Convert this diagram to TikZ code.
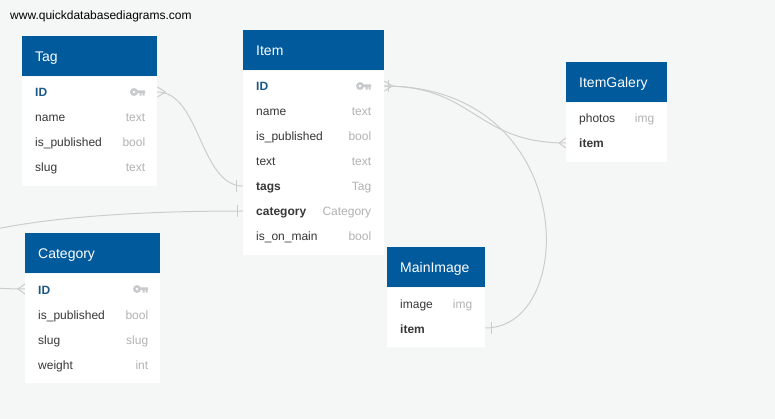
\documentclass[tikz,border=0pt]{standalone}
\usepackage{fontspec}
\setmainfont{Liberation Sans}
\usetikzlibrary{positioning}
\definecolor{pagebg}{RGB}{245,247,247}
\definecolor{headblue}{RGB}{0,90,156}
\definecolor{idblue}{RGB}{28,88,134}
\definecolor{rowtext}{RGB}{55,55,55}
\definecolor{typegrey}{RGB}{178,178,178}
\definecolor{keygrey}{RGB}{200,202,206}
\definecolor{linkgrey}{RGB}{204,204,204}
\tikzset{
  headbox/.style={anchor=north west,fill=headblue,text=white,font=\fontsize{14}{16}\selectfont,minimum height=40,inner xsep=13,inner ysep=0,text height=12pt,text depth=2pt,align=left},
  bodybox/.style={fill=white,inner sep=0,below=0pt of #1},
  rowbox/.style={anchor=west,text width=#1,inner xsep=13,inner ysep=0,minimum height=25,text height=11pt,text depth=1pt,align=left,text=rowtext,font=\fontsize{12}{14}\selectfont},
  typebox/.style={anchor=east,inner sep=0,text height=11pt,text depth=1pt,text=typegrey,font=\fontsize{12}{14}\selectfont},
  link/.style={draw=linkgrey,line width=1pt},
  keyicon/.pic={
    \fill[keygrey,even odd rule] (-3.5,0) circle (4) (-3.5,0) circle (1.7);
    \fill[keygrey] (-1,-1.6) rectangle (7.5,1.2) (2,1) rectangle (4,3.6) (5,1) rectangle (7,3.6);
  }
}
\begin{document}
\begin{tikzpicture}[x=1pt,y=-1pt]
\useasboundingbox (0,0) rectangle (775,419);
\fill[pagebg] (0,0) rectangle (775,419);
\clip (0,0) rectangle (775,419);
\node[anchor=west,inner sep=0,font=\fontsize{12}{14}\selectfont] (site) at (10,16) {www.quickdatabasediagrams.com};
% Tag
\node[headbox,text width=109pt] (taghead) at (22,36) {Tag};
\node[bodybox=taghead,minimum width=135,minimum height=109.4] (tagbody) {};
\node[rowbox=109pt,text=idblue,font=\fontsize{12}{14}\selectfont\bfseries] (tagid) at (22,92) {ID};
\foreach \rowname/\rowtext/\rowtype/\rowy in {tagname/name/text/117,tagpub/is\_published/bool/142,tagslug/slug/text/167}{
  \node[rowbox=109pt] (\rowname) at (22,\rowy) {\rowtext};
  \node[typebox] at ([xshift=-12]\rowname.east) {\rowtype};
}
\pic at (137.5,92) {keyicon};
% Item
\node[headbox,text width=115pt] (itemhead) at (243,30) {Item};
\node[bodybox=itemhead,minimum width=141,minimum height=184.4] (itembody) {};
\node[rowbox=115pt,text=idblue,font=\fontsize{12}{14}\selectfont\bfseries] (itemid) at (243,86) {ID};
\foreach \rowname/\rowtext/\rowtype/\rowy in {itemname/name/text/111,itempub/is\_published/bool/136,itemtext/text/text/161,itemmain/is\_on\_main/bool/236}{
  \node[rowbox=115pt] (\rowname) at (243,\rowy) {\rowtext};
  \node[typebox] at ([xshift=-13]\rowname.east) {\rowtype};
}
\node[rowbox=115pt,font=\fontsize{12}{14}\selectfont\bfseries] (itemtags) at (243,186) {tags};
\node[typebox] at ([xshift=-13]itemtags.east) {Tag};
\node[rowbox=115pt,font=\fontsize{12}{14}\selectfont\bfseries] (itemcat) at (243,211) {category};
\node[typebox] at ([xshift=-13]itemcat.east) {Category};
\pic at (363.5,86) {keyicon};
% ItemGalery
\node[headbox,text width=75pt] (galhead) at (566,62) {ItemGalery};
\node[bodybox=galhead,minimum width=101,minimum height=59.4] (galbody) {};
\node[rowbox=75pt] (galphotos) at (566,118) {photos};
\node[typebox] at ([xshift=-13]galphotos.east) {img};
\node[rowbox=75pt,font=\fontsize{12}{14}\selectfont\bfseries] (galitem) at (566,143) {item};
% MainImage
\node[headbox,text width=72pt] (mainhead) at (387,247) {MainImage};
\node[bodybox=mainhead,minimum width=98,minimum height=59.4] (mainbody) {};
\node[rowbox=72pt] (mainimage) at (387,303) {image};
\node[typebox] at ([xshift=-13]mainimage.east) {img};
\node[rowbox=72pt,font=\fontsize{12}{14}\selectfont\bfseries] (mainitem) at (387,328) {item};
% Category
\node[headbox,text width=109pt] (cathead) at (25,233) {Category};
\node[bodybox=cathead,minimum width=135,minimum height=109.4] (catbody) {};
\node[rowbox=109pt,text=idblue,font=\fontsize{12}{14}\selectfont\bfseries] (catid) at (25,289) {ID};
\foreach \rowname/\rowtext/\rowtype/\rowy in {catpub/is\_published/bool/314,catslug/slug/slug/339,catweight/weight/int/364}{
  \node[rowbox=109pt] (\rowname) at (25,\rowy) {\rowtext};
  \node[typebox] at ([xshift=-12]\rowname.east) {\rowtype};
}
\pic at (140.5,289) {keyicon};
% links
\draw[link] (tagid.east) .. controls (200,92) and (200,186) .. (itemtags.west);
\draw[link] (itemid.east) .. controls (475,86) and (475,143) .. (galitem.west);
\draw[link] (itemid.east) .. controls (579,86) and (579,328) .. (mainitem.east);
\draw[link] (catid.west) .. controls (-130,289) and (-130,211) .. (itemcat.west);
% crow feet and bars
\draw[link] ([yshift=5]tagid.east) -- ++(8,5) -- ++(-8,5);
\draw[link] ([yshift=5]galitem.west) -- ++(-7,5) -- ++(7,5);
\draw[link] ([yshift=5]catid.west) -- ++(-7,5) -- ++(7,5);
\draw[link] ([yshift=5]itemid.east) -- ++(8,5) -- ++(-8,5);
\draw[link] ([xshift=4,yshift=6]itemid.east) -- ++(0,12);
\draw[link] ([xshift=-7,yshift=6]itemtags.west) -- ++(0,12);
\draw[link] ([xshift=-6,yshift=6]itemcat.west) -- ++(0,12);
\draw[link] ([xshift=6,yshift=6]mainitem.east) -- ++(0,12);
\end{tikzpicture}
\end{document}
